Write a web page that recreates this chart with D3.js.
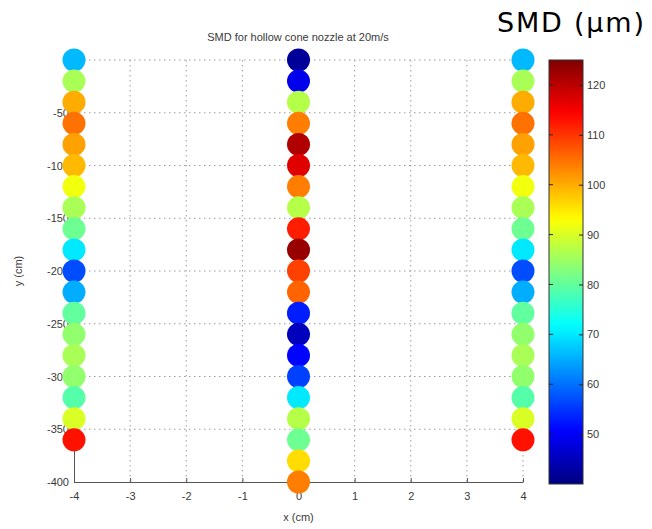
<!DOCTYPE html>
<html>
<head>
<meta charset="utf-8">
<script src="https://cdn.jsdelivr.net/npm/d3@7"></script>
<style>
  body { margin: 0; background: #fff; }
  svg { display: block; }
</style>
</head>
<body>
<div id="chart"></div>
<script>
// Measurement depths (cm), shared by the outer columns
const depthsOuter = d3.range(0, -361, -20);
const depthsCenter = d3.range(0, -401, -20);
const columns = [-4, 0, 4];

// SMD values (um), top to bottom
const smdLeft = [66, 86, 100, 105, 101, 99, 92, 86, 81, 70, 57, 65, 80, 84, 86, 84, 79, 90, 113];
const smdCenter = [42, 49, 87, 104, 121, 117, 104, 87, 112, 123, 109, 106, 53, 45, 51, 56, 70, 87, 81, 96, 104];
const smdRight = [66, 86, 100, 105, 101, 99, 92, 86, 81, 70, 57, 65, 80, 84, 86, 84, 79, 90, 113];

const xTicks = [-4, -3, -2, -1, 0, 1, 2, 3, 4];
const yTicks = [0, -50, -100, -150, -200, -250, -300, -350, -400];
const cbTicks = [50, 60, 70, 80, 90, 100, 110, 120];
const cbDomain = [40, 125];

const W = 652, H = 529;
const plot = { left: 74, right: 523, top: 60, bottom: 482 };
const cb = { left: 549, right: 583, top: 60, bottom: 484 };
const textColor = '#3a3a3a';
const fmt = d => String(d); // plain hyphen minus, as in the original

// MATLAB jet colormap
function jet(t) {
  const c = v => Math.max(0, Math.min(1, v));
  const r = c(1.5 - Math.abs(4 * t - 3));
  const g = c(1.5 - Math.abs(4 * t - 2));
  const b = c(1.5 - Math.abs(4 * t - 1));
  return d3.rgb(r * 255, g * 255, b * 255).formatHex();
}
const cNorm = d3.scaleLinear().domain(cbDomain).range([0, 1]).clamp(true);
const color = v => jet(cNorm(v));

const svg = d3.select('#chart').append('svg')
  .attr('width', W).attr('height', H)
  .style('font-family', '"Liberation Sans", Arial, sans-serif');

const x = d3.scaleLinear().domain([-4, 4]).range([plot.left, plot.right]);
const y = d3.scaleLinear().domain([-400, 0]).range([plot.bottom, plot.top]);

// dotted grid
const grid = svg.append('g').attr('stroke', '#9a9aa4').attr('stroke-width', 1)
  .attr('stroke-dasharray', '1.5,3.5');
grid.selectAll('.gx').data(xTicks.slice(1)).enter().append('line')
  .attr('x1', d => x(d)).attr('x2', d => x(d))
  .attr('y1', plot.top).attr('y2', plot.bottom);
grid.selectAll('.gy').data(yTicks.slice(0, -1)).enter().append('line')
  .attr('x1', plot.left).attr('x2', plot.right)
  .attr('y1', d => y(d)).attr('y2', d => y(d));

// axes
const xAxis = svg.append('g')
  .attr('transform', `translate(0,${plot.bottom})`)
  .call(d3.axisBottom(x).tickValues(xTicks).tickFormat(fmt)
    .tickSizeInner(-4).tickSizeOuter(0).tickPadding(10));
const yAxis = svg.append('g')
  .attr('transform', `translate(${plot.left},0)`)
  .call(d3.axisLeft(y).tickValues(yTicks).tickFormat(fmt)
    .tickSizeInner(-4).tickSizeOuter(0).tickPadding(5));
[xAxis, yAxis].forEach(g => {
  g.select('.domain').attr('stroke', '#555');
  g.selectAll('.tick line').attr('stroke', '#555');
  g.selectAll('text').attr('fill', textColor).attr('font-size', 11)
    .attr('font-family', '"Liberation Sans", Arial, sans-serif');
});

// axis labels and title
svg.append('text').attr('x', (plot.left + plot.right) / 2).attr('y', 521)
  .attr('text-anchor', 'middle').attr('font-size', 11).attr('fill', textColor)
  .text('x (cm)');
svg.append('text').attr('transform', `translate(22,${(plot.top + plot.bottom) / 2}) rotate(-90)`)
  .attr('text-anchor', 'middle').attr('font-size', 11).attr('fill', textColor)
  .text('y (cm)');
svg.append('text').attr('x', 298).attr('y', 41)
  .attr('text-anchor', 'middle').attr('font-size', 11).attr('fill', textColor)
  .text('SMD for hollow cone nozzle at 20m/s');

// dots
const series = [
  { x: columns[0], depths: depthsOuter, values: smdLeft },
  { x: columns[1], depths: depthsCenter, values: smdCenter },
  { x: columns[2], depths: depthsOuter, values: smdRight }
];
series.forEach(s => {
  svg.append('g').selectAll('circle')
    .data(s.values.map((v, i) => ({ v, d: s.depths[i] })))
    .enter().append('circle')
    .attr('cx', x(s.x)).attr('cy', d => y(d.d))
    .attr('r', 11.5)
    .attr('fill', d => color(d.v));
});

// colorbar
const grad = svg.append('defs').append('linearGradient')
  .attr('id', 'jet').attr('x1', 0).attr('y1', 1).attr('x2', 0).attr('y2', 0);
d3.range(0, 1.0001, 0.02).forEach(t => {
  grad.append('stop').attr('offset', t).attr('stop-color', jet(t));
});
svg.append('rect')
  .attr('x', cb.left).attr('y', cb.top)
  .attr('width', cb.right - cb.left).attr('height', cb.bottom - cb.top)
  .attr('fill', 'url(#jet)').attr('stroke', '#333').attr('stroke-width', 1);
const cy = d3.scaleLinear().domain(cbDomain).range([cb.bottom, cb.top]);
const cbAxis = svg.append('g')
  .attr('transform', `translate(${cb.right},0)`)
  .call(d3.axisRight(cy).tickValues(cbTicks).tickSizeInner(-4).tickSizeOuter(0).tickPadding(4));
cbAxis.select('.domain').remove();
cbAxis.selectAll('.tick line').attr('stroke', '#222');
cbAxis.selectAll('text').attr('fill', textColor).attr('font-size', 11)
  .attr('font-family', '"Liberation Sans", Arial, sans-serif');
svg.append('g').selectAll('line').data(cbTicks).enter().append('line')
  .attr('x1', cb.left).attr('x2', cb.left + 4)
  .attr('y1', d => cy(d)).attr('y2', d => cy(d)).attr('stroke', '#222');

svg.append('text').attr('x', 497).attr('y', 32)
  .attr('font-size', 27).attr('fill', '#000')
  .attr('letter-spacing', 1.8)
  .attr('font-family', '"DejaVu Sans", Verdana, sans-serif')
  .text('SMD (μm)');
</script>
</body>
</html>
